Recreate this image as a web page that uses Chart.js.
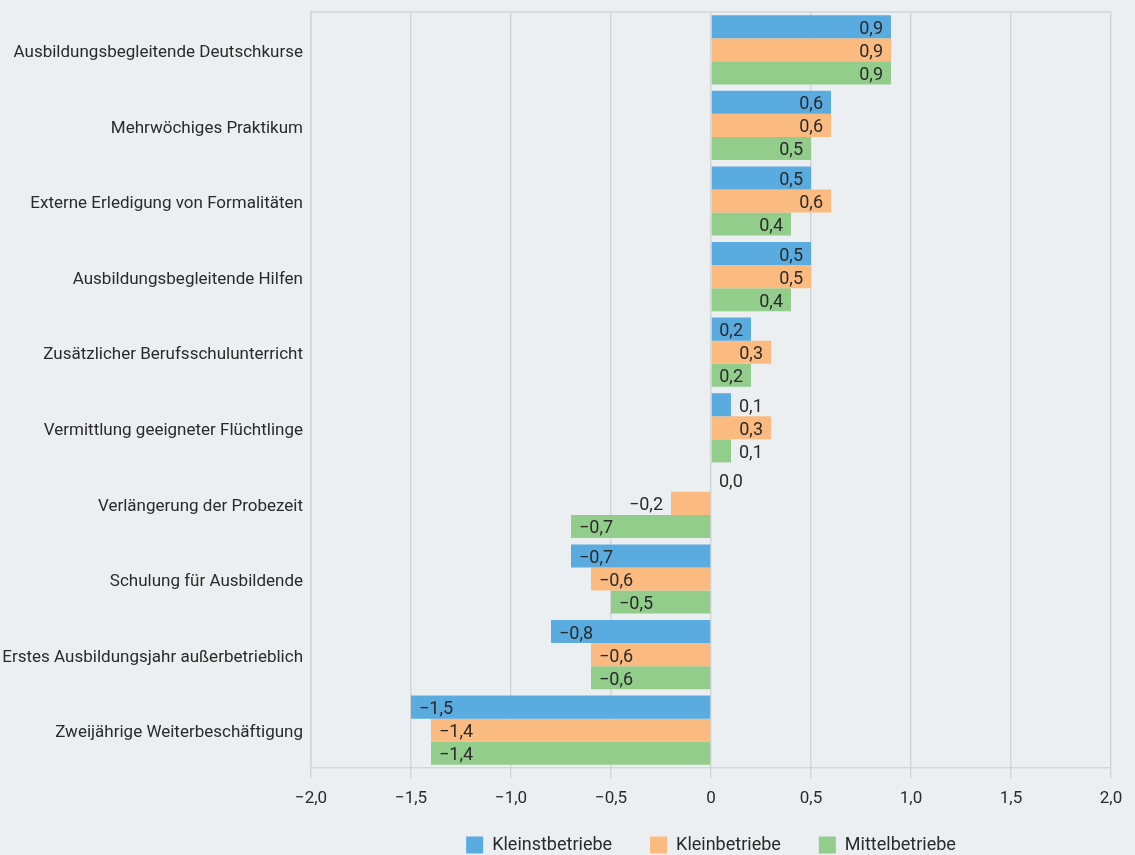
<!DOCTYPE html>
<html>
<head>
<meta charset="utf-8">
<script src="https://cdn.jsdelivr.net/npm/chart.js@4/dist/chart.umd.min.js"></script>
<style>
  html, body { margin: 0; padding: 0; background: #eceff2; }
  #wrap { width: 1135px; height: 855px; position: relative; }
</style>
</head>
<body>
<div id="wrap"><canvas id="chart"></canvas></div>
<script>
  var FONT = "Roboto, 'Liberation Sans', sans-serif";
  var TEXT = '#2a2a2a';
  var GRID = '#d3d6d9';

  var categories = [
    'Ausbildungsbegleitende Deutschkurse',
    'Mehrwöchiges Praktikum',
    'Externe Erledigung von Formalitäten',
    'Ausbildungsbegleitende Hilfen',
    'Zusätzlicher Berufsschulunterricht',
    'Vermittlung geeigneter Flüchtlinge',
    'Verlängerung der Probezeit',
    'Schulung für Ausbildende',
    'Erstes Ausbildungsjahr außerbetrieblich',
    'Zweijährige Weiterbeschäftigung'
  ];
  var seriesNames = ['Kleinstbetriebe', 'Kleinbetriebe', 'Mittelbetriebe'];
  var seriesColors = ['#5aabdf', '#fbbb80', '#93cd8b'];
  var kleinst = [0.9, 0.6, 0.5, 0.5, 0.2, 0.1, 0.0, -0.7, -0.8, -1.5];
  var klein   = [0.9, 0.6, 0.6, 0.5, 0.3, 0.3, -0.2, -0.6, -0.6, -1.4];
  var mittel  = [0.9, 0.5, 0.4, 0.4, 0.2, 0.1, -0.7, -0.5, -0.6, -1.4];
  var xTicks = [-2, -1.5, -1, -0.5, 0, 0.5, 1, 1.5, 2];

  function fmt(v, zeroPlain) {
    if (zeroPlain && v === 0) return '0';
    var s = Math.abs(v).toFixed(1).replace('.', ',');
    return (v < 0 ? '\u2212' : '') + s;
  }

  // top edge of the plot frame
  var framePlugin = {
    id: 'frame',
    beforeDatasetsDraw: function (chart) {
      var a = chart.chartArea, ctx = chart.ctx;
      ctx.save();
      ctx.strokeStyle = GRID;
      ctx.lineWidth = 1.5;
      ctx.beginPath();
      ctx.moveTo(a.left, a.top);
      ctx.lineTo(a.right, a.top);
      ctx.stroke();
      ctx.restore();
    }
  };

  // value labels, inside the bar end when they fit, else just outside
  var valueLabels = {
    id: 'valueLabels',
    afterDatasetsDraw: function (chart) {
      var ctx = chart.ctx;
      ctx.save();
      ctx.font = '18px ' + FONT;
      ctx.fillStyle = TEXT;
      ctx.textBaseline = 'middle';
      chart.data.datasets.forEach(function (ds, di) {
        var meta = chart.getDatasetMeta(di);
        meta.data.forEach(function (bar, i) {
          var v = ds.data[i];
          var txt = fmt(v, false);
          var w = ctx.measureText(txt).width;
          var len = Math.abs(bar.x - bar.base);
          var y = bar.y + 2.5;
          if (v >= 0) {
            if (len >= w + 6) { ctx.textAlign = 'right'; ctx.fillText(txt, bar.x - 8, y); }
            else { ctx.textAlign = 'left'; ctx.fillText(txt, bar.x + 8, y); }
          } else {
            if (len >= w + 6) { ctx.textAlign = 'left'; ctx.fillText(txt, bar.x + 8, y); }
            else { ctx.textAlign = 'right'; ctx.fillText(txt, bar.x - 8, y); }
          }
        });
      });
      ctx.restore();
    }
  };

  var series = [kleinst, klein, mittel];
  var datasets = series.map(function (vals, k) {
    return {
      label: seriesNames[k],
      data: vals,
      backgroundColor: seriesColors[k],
      borderWidth: 0,
      categoryPercentage: 0.915,
      barPercentage: 1.0
    };
  });

  new Chart(document.getElementById('chart'), {
    type: 'bar',
    data: { labels: categories, datasets: datasets },
    plugins: [framePlugin, valueLabels],
    options: {
      indexAxis: 'y',
      responsive: true,
      maintainAspectRatio: false,
      animation: false,
      devicePixelRatio: 1,
      layout: { padding: { top: 12, right: 24, left: 0, bottom: 0 } },
      plugins: {
        tooltip: { enabled: false },
        legend: {
          position: 'bottom',
          fullSize: false,
          maxHeight: 57,
          labels: {
            boxWidth: 17,
            boxHeight: 17,
            padding: 38,
            color: TEXT,
            font: { family: FONT, size: 18 }
          }
        }
      },
      scales: {
        x: {
          min: -2, max: 2,
          afterBuildTicks: function (scale) {
            scale.ticks = xTicks.map(function (v) { return { value: v }; });
          },
          afterFit: function (scale) {
            scale.height = 30;
            // tick labels hang below the short axis box; don't clip them
            scale._computeLabelArea = function () { return undefined; };
          },
          grid: { color: GRID, lineWidth: 1.5, tickLength: 10, drawTicks: true },
          border: { color: GRID, width: 1.5 },
          ticks: {
            color: TEXT,
            padding: 11,
            maxRotation: 0,
            font: { family: FONT, size: 17 },
            callback: function (v) { return fmt(v, true); }
          }
        },
        y: {
          afterFit: function (scale) {
            scale.width = 311;
            scale.paddingTop = 0;
            scale.paddingBottom = 0;
          },
          grid: { display: false, drawTicks: false },
          border: { display: true, color: GRID, width: 1.5 },
          ticks: {
            color: TEXT,
            padding: 8,
            labelOffset: 3,
            font: { family: FONT, size: 17 }
          }
        }
      }
    }
  });
</script>
</body>
</html>
